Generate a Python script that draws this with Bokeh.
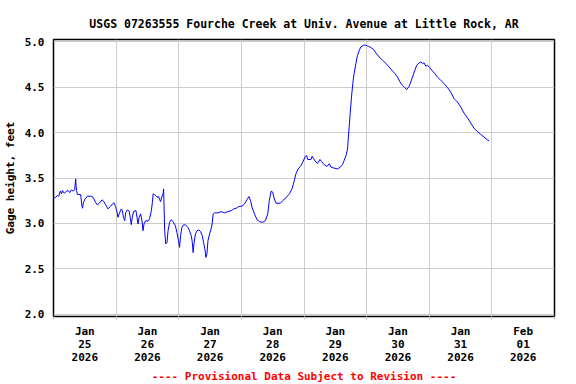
from bokeh.plotting import figure
from bokeh.models import Range1d, FixedTicker, Title
from bokeh.embed import file_html
from bokeh.resources import INLINE

# hours since 2026-01-25 00:00
hours = [0.0, 0.8, 1.5, 2.0, 2.6, 3.1, 3.4, 4.1, 5.0, 5.6, 6.2, 6.9, 7.6, 8.1, 8.5, 8.8, 9.2,
         10.4, 10.8, 11.1, 11.5, 12.1, 13.0, 14.3, 15.2, 16.1, 16.8, 17.7, 18.6, 19.2, 20.0,
         20.9, 21.8, 22.6, 23.2, 23.8, 24.4, 24.7, 25.4, 26.0, 26.4, 26.8, 27.3, 27.7, 28.3,
         29.0, 29.4, 29.8, 30.2, 30.7, 31.6, 32.0, 32.4, 32.8, 33.4, 33.9, 34.3, 34.7, 35.3,
         36.2, 36.8, 37.5, 37.9, 38.2, 38.7, 39.7, 40.3, 40.7, 41.0, 41.6, 42.0, 42.2, 42.6,
         43.0, 43.5, 43.9, 44.5, 45.1, 45.8, 46.7, 47.3, 47.9, 48.3, 48.7, 49.2, 49.8, 50.6,
         51.5, 52.1, 52.8, 53.2, 53.5, 53.9, 54.4, 55.0, 55.7, 56.3, 57.0, 57.5, 58.0, 58.4,
         58.8, 59.2, 59.8, 60.4, 60.8, 61.2, 61.7, 63.0, 64.3, 65.5, 66.8, 68.1, 69.1, 70.0,
         71.0, 72.2, 73.2, 74.1, 74.9, 75.5, 76.1, 77.0, 78.0, 78.9, 80.2, 81.2, 82.1, 82.7,
         83.4, 84.0, 84.6, 85.3, 86.9, 87.9, 89.1, 90.4, 91.4, 92.3, 92.9, 93.8, 94.9, 95.7,
         96.5, 97.0, 97.4, 98.7, 99.1, 99.7, 100.6, 101.2, 102.1, 102.8, 103.8, 104.8, 105.7,
         106.3, 107.4, 108.9, 109.9, 110.8, 111.4, 112.1, 112.7, 112.9, 113.3, 113.7, 114.2,
         114.7, 115.2, 115.9, 116.5, 117.2, 117.8, 118.8, 119.7, 120.6, 121.6, 122.7, 123.5,
         124.8, 126.1, 127.4, 128.6, 129.9, 130.8, 131.8, 132.8, 133.7, 134.6, 135.4, 136.3,
         136.9, 137.6, 138.5, 139.2, 140.1, 140.8, 141.4, 142.0, 142.7, 143.3, 144.2, 145.2,
         146.1, 147.1, 148.4, 149.7, 151.0, 152.2, 153.5, 154.8, 156.1, 157.3, 158.6, 159.9,
         161.1, 162.4, 163.7, 165.0, 166.3, 166.9]

gage = [3.277, 3.288, 3.307, 3.300, 3.355, 3.326, 3.362, 3.333, 3.355, 3.362, 3.340, 3.370, 3.355, 3.370, 3.490, 3.362, 3.318,
        3.318, 3.215, 3.167, 3.233, 3.270, 3.300, 3.300, 3.288, 3.233, 3.204, 3.226, 3.260, 3.245, 3.204,
        3.160, 3.186, 3.215, 3.226, 3.186, 3.116, 3.068, 3.123, 3.160, 3.140, 3.068, 3.031, 3.123, 3.150,
        3.134, 3.068, 2.987, 3.068, 3.134, 3.140, 3.068, 2.995, 3.068, 3.105, 3.031, 2.920, 2.995, 3.031,
        3.025, 3.050, 3.140, 3.233, 3.326, 3.318, 3.288, 3.296, 3.260, 3.240, 3.300, 3.326, 3.380, 2.920,
        2.774, 2.790, 2.920, 3.013, 3.040, 3.020, 2.976, 2.900, 2.810, 2.737, 2.866, 2.957, 2.984, 2.984,
        2.957, 2.920, 2.866, 2.792, 2.680, 2.792, 2.885, 2.920, 2.928, 2.913, 2.866, 2.792, 2.720, 2.627,
        2.664, 2.810, 2.885, 2.940, 2.995, 3.105, 3.116, 3.116, 3.130, 3.116, 3.130, 3.140, 3.160, 3.167,
        3.186, 3.190, 3.215, 3.260, 3.296, 3.252, 3.178, 3.105, 3.042, 3.020, 3.013, 3.031, 3.105, 3.252,
        3.355, 3.345, 3.270, 3.222, 3.222, 3.252, 3.282, 3.326, 3.380, 3.473, 3.546, 3.600, 3.638, 3.685,
        3.737, 3.748, 3.704, 3.704, 3.740, 3.710, 3.675, 3.660, 3.704, 3.680, 3.645, 3.627, 3.657,
        3.620, 3.610, 3.600, 3.620, 3.649, 3.693, 3.748, 3.820, 3.910, 4.060, 4.210, 4.390,
        4.540, 4.650, 4.760, 4.850, 4.906, 4.943, 4.961, 4.961, 4.950, 4.936, 4.914, 4.877,
        4.832, 4.796, 4.760, 4.722, 4.678, 4.650, 4.612, 4.557, 4.520, 4.495, 4.473, 4.510,
        4.557, 4.612, 4.686, 4.741, 4.766, 4.777, 4.760, 4.766, 4.730, 4.741, 4.715, 4.678,
        4.650, 4.612, 4.575, 4.539, 4.495, 4.446, 4.374, 4.336, 4.280, 4.215, 4.164, 4.105,
        4.050, 4.013, 3.980, 3.950, 3.920, 3.910]

day_ticks = [12, 36, 60, 84, 108, 132, 156, 180]
day_labels = ["Jan\n25\n2026", "Jan\n26\n2026", "Jan\n27\n2026", "Jan\n28\n2026",
              "Jan\n29\n2026", "Jan\n30\n2026", "Jan\n31\n2026", "Feb\n01\n2026"]
midnights = [0, 24, 48, 72, 96, 120, 144, 168, 192]
y_ticks = [2.0, 2.5, 3.0, 3.5, 4.0, 4.5, 5.0]
y_labels = ["2.0", "2.5", "3.0", "3.5", "4.0", "4.5", "5.0"]

FONT = "DejaVu Sans Mono"

p = figure(width=576, height=384, output_backend="svg", toolbar_location=None,
           x_range=Range1d(0, 192), y_range=Range1d(1.976, 5.024),
           min_border_left=52, min_border_right=22, min_border_top=39, min_border_bottom=68)

p.title.text = "USGS 07263555 Fourche Creek at Univ. Avenue at Little Rock, AR"
p.title.align = "center"
p.title.text_font = FONT
p.title.text_font_size = "11.5px"
p.title.text_font_style = "bold"
p.title.text_color = "black"
p.title.standoff = 17

p.outline_line_color = "black"
p.outline_line_width = 1.5
p.outline_line_alpha = 1.0

p.xgrid.ticker = FixedTicker(ticks=midnights)
p.ygrid.ticker = FixedTicker(ticks=y_ticks)
p.grid.grid_line_color = "#cccccc"
p.grid.grid_line_width = 1
p.grid.grid_line_alpha = 1.0

xa = p.xaxis[0]
xa.ticker = FixedTicker(ticks=day_ticks, minor_ticks=midnights)
xa.major_label_overrides = {t: l for t, l in zip(day_ticks, day_labels)}
xa.axis_line_color = None
xa.major_tick_line_color = None
xa.major_tick_in = 0
xa.major_tick_out = 0
xa.minor_tick_line_color = "#cccccc"
xa.minor_tick_in = 0
xa.minor_tick_out = 3
xa.major_label_standoff = 5
xa.major_label_text_font = FONT
xa.major_label_text_font_size = "11px"
xa.major_label_text_font_style = "bold"
xa.major_label_text_color = "black"
xa.major_label_text_line_height = 1.0

ya = p.yaxis[0]
ya.ticker = FixedTicker(ticks=y_ticks)
ya.major_label_overrides = {t: l for t, l in zip(y_ticks, y_labels)}
ya.axis_line_color = None
ya.major_tick_line_color = None
ya.major_tick_in = 0
ya.major_tick_out = 0
ya.minor_tick_line_color = None
ya.minor_tick_in = 0
ya.minor_tick_out = 0
ya.major_label_standoff = 9
ya.major_label_text_font = FONT
ya.major_label_text_font_size = "11px"
ya.major_label_text_font_style = "bold"
ya.major_label_text_color = "black"
ya.axis_label = "Gage height, feet"
ya.axis_label_text_font = FONT
ya.axis_label_text_font_size = "11px"
ya.axis_label_text_font_style = "bold"
ya.axis_label_text_color = "black"
ya.axis_label_standoff = 5

footer = Title(text="---- Provisional Data Subject to Revision ----", align="center",
               text_color="red", text_font=FONT, text_font_size="11px", text_font_style="bold",
               standoff=2)
p.add_layout(footer, "below")

p.line(hours, gage, line_color="#0000ff", line_width=1)

open("out.html", "w").write(file_html(p, INLINE))
